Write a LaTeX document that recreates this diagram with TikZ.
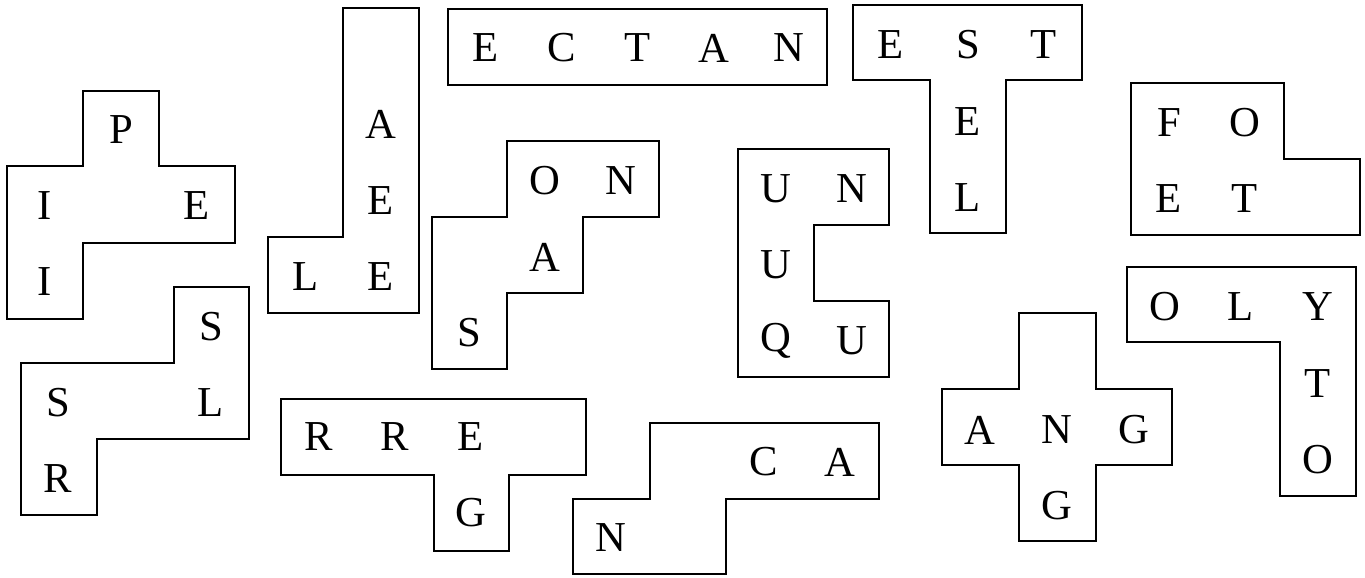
\documentclass[tikz,border=0pt]{standalone}
\usepackage{fontspec}
\setmainfont{Liberation Serif}
\begin{document}
\begin{tikzpicture}[x=0.75pt,y=-0.75pt,
  piece/.style={draw=black,line width=1.5pt,line join=miter,fill=white},
  letter/.style={font=\fontsize{32}{36}\selectfont,inner sep=0pt,anchor=center}]
\useasboundingbox[fill=white] (0,0) rectangle (1365,578);
% PIE
\draw[piece] (83,91)--(159,91)--(159,166)--(235,166)--(235,243)--(83,243)--(83,319)--(7,319)--(7,166)--(83,166)--cycle;
\node[letter] (p1) at (121,130) {P};
\node[letter] (p2) at (45,206) {I};
\node[letter] (p3) at (197,206) {E};
\node[letter] (p4) at (45,282) {I};
% LAEE
\draw[piece] (343,8)--(419,8)--(419,313)--(268,313)--(268,237)--(343,237)--cycle;
\node[letter] (l1) at (381,124) {A};
\node[letter] (l2) at (381,201) {E};
\node[letter] (l3) at (306,277) {L};
\node[letter] (l4) at (381,277) {E};
% ECTAN
\draw[piece] (448,9) rectangle (827,85);
\node[letter] (e1) at (486,48) {E};
\node[letter] (e2) at (562,48) {C};
\node[letter] (e3) at (638,48) {T};
\node[letter] (e4) at (714,48) {A};
\node[letter] (e5) at (789,48) {N};
% ESTEL
\draw[piece] (853,5)--(1082,5)--(1082,80)--(1006,80)--(1006,233)--(930,233)--(930,80)--(853,80)--cycle;
\node[letter] (t1) at (891,45) {E};
\node[letter] (t2) at (968,45) {S};
\node[letter] (t3) at (1044,45) {T};
\node[letter] (t4) at (968,122) {E};
\node[letter] (t5) at (968,198) {L};
% FOET
\draw[piece] (1131,83)--(1284,83)--(1284,159)--(1360,159)--(1360,235)--(1131,235)--cycle;
\node[letter] (f1) at (1169,123) {F};
\node[letter] (f2) at (1245,123) {O};
\node[letter] (f3) at (1169,199) {E};
\node[letter] (f4) at (1245,199) {T};
% SONA
\draw[piece] (507,141)--(659,141)--(659,217)--(583,217)--(583,293)--(507,293)--(507,369)--(432,369)--(432,217)--(507,217)--cycle;
\node[letter] (s1) at (545,181) {O};
\node[letter] (s2) at (621,181) {N};
\node[letter] (s3) at (545,257) {A};
\node[letter] (s4) at (469,333) {S};
% UNUQU
\draw[piece] (738,149)--(889,149)--(889,225)--(814,225)--(814,301)--(889,301)--(889,377)--(738,377)--cycle;
\node[letter] (u1) at (776,189) {U};
\node[letter] (u2) at (852,189) {N};
\node[letter] (u3) at (776,265) {U};
\node[letter] (u4) at (776,341) {Q};
\node[letter] (u5) at (852,341) {U};
% SSLR
\draw[piece] (174,287)--(249,287)--(249,439)--(97,439)--(97,515)--(21,515)--(21,363)--(174,363)--cycle;
\node[letter] (r1) at (211,327) {S};
\node[letter] (r2) at (58,403) {S};
\node[letter] (r3) at (211,403) {L};
\node[letter] (r4) at (58,479) {R};
% RREG
\draw[piece] (281,399)--(586,399)--(586,475)--(509,475)--(509,551)--(434,551)--(434,475)--(281,475)--cycle;
\node[letter] (g1) at (319,437) {R};
\node[letter] (g2) at (395,437) {R};
\node[letter] (g3) at (471,437) {E};
\node[letter] (g4) at (471,513) {G};
% NCA
\draw[piece] (650,423)--(879,423)--(879,499)--(726,499)--(726,574)--(573,574)--(573,499)--(650,499)--cycle;
\node[letter] (n1) at (764,462) {C};
\node[letter] (n2) at (840,462) {A};
\node[letter] (n3) at (611,538) {N};
% ANGG
\draw[piece] (1019,313)--(1096,313)--(1096,389)--(1172,389)--(1172,465)--(1096,465)--(1096,541)--(1019,541)--(1019,465)--(942,465)--(942,389)--(1019,389)--cycle;
\node[letter] (a1) at (980,430) {A};
\node[letter] (a2) at (1057,430) {N};
\node[letter] (a3) at (1134,430) {G};
\node[letter] (a4) at (1057,506) {G};
% OLYTO
\draw[piece] (1127,267)--(1356,267)--(1356,496)--(1280,496)--(1280,342)--(1127,342)--cycle;
\node[letter] (o1) at (1165,307) {O};
\node[letter] (o2) at (1241,307) {L};
\node[letter] (o3) at (1318,307) {Y};
\node[letter] (o4) at (1318,384) {T};
\node[letter] (o5) at (1318,460) {O};
\end{tikzpicture}
\end{document}
